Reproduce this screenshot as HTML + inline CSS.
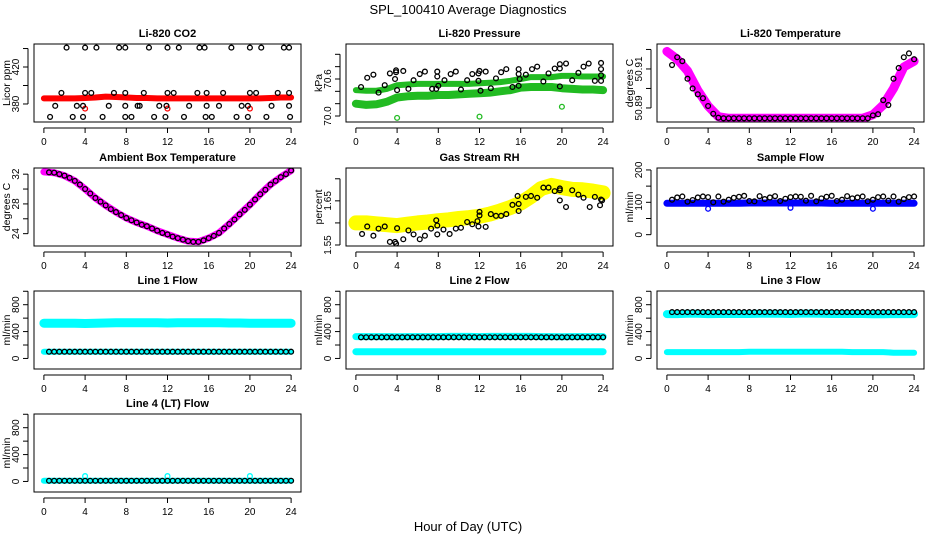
<!DOCTYPE html>
<html><head><meta charset="utf-8"><style>
html,body{margin:0;padding:0;background:#fff;}
svg{display:block;font-family:"Liberation Sans",sans-serif;}
</style></head><body>
<svg id="chart" width="936" height="540" viewBox="0 0 936 540">
<rect width="936" height="540" fill="#fff"/>
<text x="468" y="14" text-anchor="middle" font-size="13">SPL_100410  Average Diagnostics</text>
<text x="468" y="531" text-anchor="middle" font-size="13">Hour of Day (UTC)</text>
</svg>
<script>
const HOURLY=[0,1,2,3,4,5,6,7,8,9,10,11,12,13,14,15,16,17,18,19,20,21,22,23,24];
const HALF=[0.5,1,1.5,2,2.5,3,3.5,4,4.5,5,5.5,6,6.5,7,7.5,8,8.5,9,9.5,10,10.5,11,11.5,12,12.5,13,13.5,14,14.5,15,15.5,16,16.5,17,17.5,18,18.5,19,19.5,20,20.5,21,21.5,22,22.5,23,23.5,24];
const X_TICKS=[0,4,8,12,16,20,24];

// CO2
const co2BlackHours=[2.2,4,5.1,7.3,7.9,10.2,12,13.1,15.1,15.6,18.2,20,21.1,23.3,23.8,1.7,4,4.6,6.8,7.9,9.7,12,12.6,14.9,15.8,17.4,20,20.6,22.7,23.8,1.1,3.2,3.8,6.3,7.9,9.1,9.3,11.2,11.9,14.1,15.8,17,19.2,19.8,22.1,23.8,0.6,2.8,3.8,5.7,7.9,8.5,10.7,11.8,13.6,15.7,16.3,18.7,19.8,21.6,23.9];
const co2BlackVals=[441,441,441,441,441,441,441,441,441,441,441,441,441,441,441,392,392,392,392,392,392,392,392,392,392,392,392,392,392,392,378,378,378,378,378,378,378,378,378,378,378,378,378,378,378,378,366,366,366,366,366,366,366,366,366,366,366,366,366,366,366];
const co2Red=[386,386,386,386,386.5,387,388,387.5,387,386.5,386.5,386,386,386,386,386,386,386,386,386,386,386,386.5,387,387];
const co2OutHours=[4,12,20];
const co2OutVals=[375,375,375];

// Pressure
const presBlackHours=[0.5,1.1,1.7,2.2,2.8,3.3,3.8,3.9,3.9,4,4.6,5.1,5.6,6.2,6.7,7.4,7.8,7.9,7.9,8,8.6,9.2,9.7,10.2,10.8,11.3,11.9,11.9,12,12.1,12.6,13.1,13.6,14.1,14.6,15.2,15.8,15.8,15.8,15.9,16.5,17.1,17.6,18.2,18.7,19.3,19.8,19.8,19.8,20.4,21,21.6,22.1,22.6,23.2,23.8,23.8,23.8,23.8];
const presBlackVals=[70.47,70.62,70.67,70.38,70.5,70.69,70.6,70.74,70.71,70.42,70.73,70.44,70.58,70.68,70.72,70.44,70.44,70.72,70.64,70.49,70.58,70.68,70.72,70.43,70.58,70.68,70.69,70.57,70.73,70.41,70.72,70.45,70.61,70.71,70.76,70.47,70.49,70.76,70.68,70.6,70.67,70.76,70.8,70.56,70.69,70.77,70.77,70.84,70.48,70.85,70.58,70.7,70.8,70.85,70.57,70.86,70.76,70.66,70.57];
const presGreenUpper=[70.42,70.41,70.41,70.44,70.5,70.51,70.52,70.52,70.52,70.52,70.52,70.52,70.53,70.54,70.55,70.57,70.6,70.63,70.63,70.63,70.65,70.65,70.64,70.64,70.64];
const presGreenLower=[70.2,70.18,70.19,70.23,70.3,70.32,70.33,70.33,70.34,70.34,70.35,70.36,70.37,70.38,70.4,70.42,70.46,70.47,70.47,70.47,70.45,70.44,70.43,70.43,70.42];
const presOutHours=[4,12,20];
const presOutVals=[69.97,69.99,70.15];

// Li-820 temperature
const tempMagenta=[50.919,50.915,50.909,50.899,50.891,50.8855,50.8847,50.8847,50.8847,50.8847,50.8847,50.8847,50.8847,50.8847,50.8847,50.8847,50.8847,50.8847,50.8847,50.8847,50.8865,50.8915,50.9,50.911,50.914];
const tempBlack=[50.912,50.916,50.914,50.905,50.9,50.897,50.895,50.891,50.887,50.885,50.8847,50.8847,50.8847,50.8847,50.8847,50.8847,50.8847,50.8847,50.8847,50.8847,50.8847,50.8847,50.8847,50.8847,50.8847,50.8847,50.8847,50.8847,50.8847,50.8847,50.8847,50.8847,50.8847,50.8847,50.8847,50.8847,50.8847,50.8847,50.8847,50.8862,50.8868,50.894,50.8915,50.905,50.9105,50.916,50.918,50.915];

// Ambient box temperature
const ambMagenta=[32.3,32.2,31.8,31.1,30.0,28.8,27.8,26.9,26.1,25.5,25.0,24.4,23.9,23.4,23.0,22.9,23.4,24.1,25.3,26.6,27.9,29.3,30.6,31.6,32.5];
const ambBlack=[32.25,32.2,32.0,31.8,31.5,31.1,30.6,30.0,29.4,28.8,28.3,27.8,27.3,26.9,26.5,26.1,25.8,25.5,25.2,25.0,24.7,24.4,24.1,23.9,23.6,23.4,23.2,23.0,22.9,22.9,23.1,23.4,23.7,24.1,24.7,25.3,25.9,26.6,27.2,27.9,28.6,29.3,29.9,30.6,31.1,31.6,32.0,32.5];

// RH
const rhYellow=[1.600,1.600,1.598,1.596,1.594,1.597,1.600,1.602,1.605,1.607,1.610,1.612,1.615,1.620,1.627,1.635,1.645,1.660,1.678,1.685,1.680,1.676,1.675,1.672,1.668];
const rhBlackHours=[0.6,1.1,1.7,2.2,2.8,3.3,3.8,3.9,4,4.6,5.1,5.6,6.2,6.7,7.3,7.8,7.9,7.9,8.5,9.1,9.7,10.2,10.8,11.3,11.8,11.9,12,12,12.6,13.1,13.6,14.1,14.6,15.2,15.7,15.8,15.8,16.5,17,17.6,18.2,18.7,19.3,19.8,19.8,19.8,20.4,21,21.6,22.1,22.7,23.2,23.7,23.8,23.9];
const rhBlackVals=[1.575,1.592,1.571,1.587,1.592,1.557,1.557,1.553,1.588,1.563,1.583,1.574,1.563,1.571,1.587,1.606,1.594,1.574,1.585,1.575,1.587,1.589,1.602,1.597,1.604,1.592,1.625,1.617,1.591,1.62,1.616,1.616,1.62,1.641,1.661,1.627,1.643,1.659,1.661,1.657,1.68,1.68,1.672,1.674,1.678,1.651,1.636,1.674,1.664,1.657,1.636,1.659,1.64,1.653,1.651];

// Sample flow
const sampleBlue=[97,97,97,97,97,97,97,97,98,98,98,98,98,98,98,98,97,97,97,97,97,97,97,97,97];
const sampleBlack=[108,115,118,102,107,115,118,116,100,118,102,108,114,117,120,104,103,119,110,115,119,104,111,116,118,117,105,120,103,112,117,120,104,108,119,112,115,118,103,108,116,118,105,118,102,110,116,118];
const sampleOutHours=[4,12,20];
const sampleOutVals=[80,83,80];

// Line flows
const line1Upper=[525,525,525,525,520,525,528,530,530,532,532,532,528,530,532,532,530,530,528,528,525,525,525,525,525];
const line1Lower=[100,100,100,100,100,100,100,100,100,100,100,100,100,100,100,100,100,100,100,100,100,100,100,100,100];
const line1Black=[100,100,100,100,100,100,100,100,100,100,100,100,100,100,100,100,100,100,100,100,100,100,100,100,100,100,100,100,100,100,100,100,100,100,100,100,100,100,100,100,100,100,100,100,100,100,100,100];
const line2Upper=[325,325,325,325,322,325,325,325,325,328,328,328,325,328,328,328,328,328,325,325,322,325,325,325,325];
const line2Lower=[100,100,100,100,100,100,100,100,100,100,100,100,100,100,100,100,100,100,100,100,100,100,100,100,100];
const line2Black=[315,315,315,315,315,315,315,315,315,315,315,315,315,315,315,315,315,315,315,315,315,315,315,315,315,315,315,315,315,315,315,315,315,315,315,315,315,315,315,315,315,315,315,315,315,315,315,315];
const line3Upper=[660,660,665,665,660,662,662,662,662,665,665,665,662,668,668,665,662,662,662,662,658,658,660,660,660];
const line3Lower=[95,95,95,95,95,95,95,95,100,100,100,100,100,100,100,100,100,100,95,95,95,95,85,85,85];
const line3Black=[690,690,690,690,690,690,690,690,690,690,690,690,690,690,690,690,690,690,690,690,690,690,690,690,690,690,690,690,690,690,690,690,690,690,690,690,690,690,690,690,690,690,690,690,690,690,690,690];
const line4Cyan=[10,10,10,10,10,10,10,10,10,10,10,10,10,10,10,10,10,10,10,10,10,10,10,10,10];
const line4Black=[10,10,10,10,10,10,10,10,10,10,10,10,10,10,10,10,10,10,10,10,10,10,10,10,10,10,10,10,10,10,10,10,10,10,10,10,10,10,10,10,10,10,10,10,10,10,10,10];
const line4OutHours=[4,12,20];
const line4OutVals=[80,80,80];

const FLOW_TICKS=[0,200,400,600,800,1000];
const FLOW_LABELS=[0,400,800];

const NS="http://www.w3.org/2000/svg";
const svg=document.getElementById('chart');
function mk(tag,attrs,parent){const e=document.createElementNS(NS,tag);for(const k in attrs)e.setAttribute(k,attrs[k]);(parent||svg).appendChild(e);return e;}

const COLS=[34,346,657], BOXW=267, ROWS=[44,168,291,414], BOXH=78;

function panel(o){
  const L=COLS[o.col],T=ROWS[o.row],R=L+BOXW,B=T+BOXH;
  const g=mk('g',{});
  
  
  const xs=h=>L+(h+0.96)/25.92*BOXW;
  const ys=v=>B-(v-o.ymin)/(o.ymax-o.ymin)*BOXH;
  const clip='clip-'+o.name;
  const cp=mk('clipPath',{id:clip},g);mk('rect',{x:L,y:T,width:BOXW,height:BOXH},cp);
  const pg=mk('g',{'clip-path':'url(#'+clip+')'},g);
  
  
  o.draw({pg,xs,ys});
  const frame=mk('rect',{x:L,y:T,width:BOXW,height:BOXH,fill:'none',stroke:'#000','stroke-width':1},g);
  
  
  const t=mk('text',{x:(L+R)/2,y:T-7,'text-anchor':'middle','font-size':11,'font-weight':'bold'},g);
  t.textContent=o.title;
  
  
  mk('line',{x1:xs(0),x2:xs(24),y1:B+6,y2:B+6,stroke:'#000'},g);
  X_TICKS.forEach(h=>{
    mk('line',{x1:xs(h),x2:xs(h),y1:B+6,y2:B+11,stroke:'#000'},g);
    const tl=mk('text',{x:xs(h),y:B+23,'text-anchor':'middle','font-size':10},g);
    tl.textContent=h;
    
    
  });
  const yt=o.ticks;
  mk('line',{x1:L-6,x2:L-6,y1:ys(yt[0]),y2:ys(yt[yt.length-1]),stroke:'#000'},g);
  yt.forEach(v=>mk('line',{x1:L-11,x2:L-6,y1:ys(v),y2:ys(v),stroke:'#000'},g));
  o.labels.forEach(v=>{
    const x=L-15,y=ys(v);
    const tl=mk('text',{x:x,y:y,'text-anchor':'middle','font-size':10,transform:`rotate(-90 ${x} ${y})`},g);
    tl.textContent=o.fmt?o.fmt(v):v;
    
    
  });
  const yl=mk('text',{x:L-24,y:(T+B)/2,'text-anchor':'middle','font-size':10.5,transform:`rotate(-90 ${L-24} ${(T+B)/2})`},g);
  yl.textContent=o.ylab;
  
  
}
function band(c,hours,vals,color,w){
  const pts=hours.map((h,i)=>c.xs(h).toFixed(1)+','+c.ys(vals[i]).toFixed(1)).join(' ');
  const p=mk('polyline',{points:pts,fill:'none',stroke:color,'stroke-width':w,'stroke-linejoin':'round','stroke-linecap':'round'},c.pg);
  
  
}
function pts(c,hours,vals,color,r,sw){
  const n=Math.min(hours.length,vals.length);
  for(let i=0;i<n;i++){
    const e=mk('circle',{cx:c.xs(hours[i]),cy:c.ys(vals[i]),r:r||2.4,fill:'none',stroke:color,'stroke-width':sw||1.3},c.pg);
    
    
  }
}

panel({name:'co2-panel',title:'Li-820 CO2',ylab:'Licor ppm',col:0,row:0,ymin:360.5,ymax:444.9,ticks:[380,400,420,440],labels:[380,420],
  draw:c=>{band(c,HOURLY,co2Red,'#ff0000',6);pts(c,co2OutHours,co2OutVals,'#ff0000');pts(c,co2BlackHours,co2BlackVals,'#000');}});
panel({name:'pressure-panel',title:'Li-820 Pressure',ylab:'kPa',col:1,row:0,ymin:69.903,ymax:71.167,ticks:[70.0,70.2,70.4,70.6,70.8,71.0],labels:[70.0,70.6],fmt:v=>v.toFixed(1),
  draw:c=>{band(c,HOURLY,presGreenUpper,'#22bb22',6);band(c,HOURLY,presGreenLower,'#22bb22',8);pts(c,presOutHours,presOutVals,'#22bb22');pts(c,presBlackHours,presBlackVals,'#000');}});
panel({name:'li820-temperature-panel',title:'Li-820 Temperature',ylab:'degrees C',col:2,row:0,ymin:50.8828,ymax:50.9228,ticks:[50.89,50.90,50.91,50.92],labels:[50.89,50.91],fmt:v=>v.toFixed(2),
  draw:c=>{band(c,HOURLY,tempMagenta,'#ff00ff',9);pts(c,HALF,tempBlack,'#000');}});
panel({name:'ambient-temperature-panel',title:'Ambient Box Temperature',ylab:'degrees C',col:0,row:1,ymin:22.34,ymax:32.83,ticks:[24,26,28,30,32],labels:[24,28,32],
  draw:c=>{band(c,HOURLY,ambMagenta,'#ff00ff',7);pts(c,HALF,ambBlack,'#000');}});
panel({name:'rh-panel',title:'Gas Stream RH',ylab:'percent',col:1,row:1,ymin:1.5477,ymax:1.7244,ticks:[1.55,1.60,1.65,1.70],labels:[1.55,1.65],fmt:v=>v.toFixed(2),
  draw:c=>{band(c,HOURLY,rhYellow,'#ffff00',15);pts(c,rhBlackHours,rhBlackVals,'#000');}});
panel({name:'sample-flow-panel',title:'Sample Flow',ylab:'ml/min',col:2,row:1,ymin:-35,ymax:206,ticks:[0,50,100,150,200],labels:[0,100,200],
  draw:c=>{band(c,HOURLY,sampleBlue,'#0000ff',7);pts(c,sampleOutHours,sampleOutVals,'#0000ff');pts(c,HALF,sampleBlack,'#000');}});
const FLOW={ymin:-157,ymax:1004,ticks:FLOW_TICKS,labels:FLOW_LABELS,ylab:'ml/min'};
panel(Object.assign({name:'line1-flow-panel',title:'Line 1 Flow',col:0,row:2,
  draw:c=>{band(c,HOURLY,line1Upper,'#00ffff',9);band(c,HOURLY,line1Lower,'#00ffff',6);pts(c,HALF,line1Black,'#000');}},FLOW));
panel(Object.assign({name:'line2-flow-panel',title:'Line 2 Flow',col:1,row:2,
  draw:c=>{band(c,HOURLY,line2Upper,'#00ffff',7);band(c,HOURLY,line2Lower,'#00ffff',7);pts(c,HALF,line2Black,'#000');}},FLOW));
panel(Object.assign({name:'line3-flow-panel',title:'Line 3 Flow',col:2,row:2,
  draw:c=>{band(c,HOURLY,line3Upper,'#00ffff',8);band(c,HOURLY,line3Lower,'#00ffff',6);pts(c,HALF,line3Black,'#000');}},FLOW));
panel(Object.assign({name:'line4-flow-panel',title:'Line 4 (LT) Flow',col:0,row:3,
  draw:c=>{band(c,HOURLY,line4Cyan,'#00ffff',6);pts(c,line4OutHours,line4OutVals,'#00ffff');pts(c,HALF,line4Black,'#000');}},FLOW));
</script>
</body></html>
